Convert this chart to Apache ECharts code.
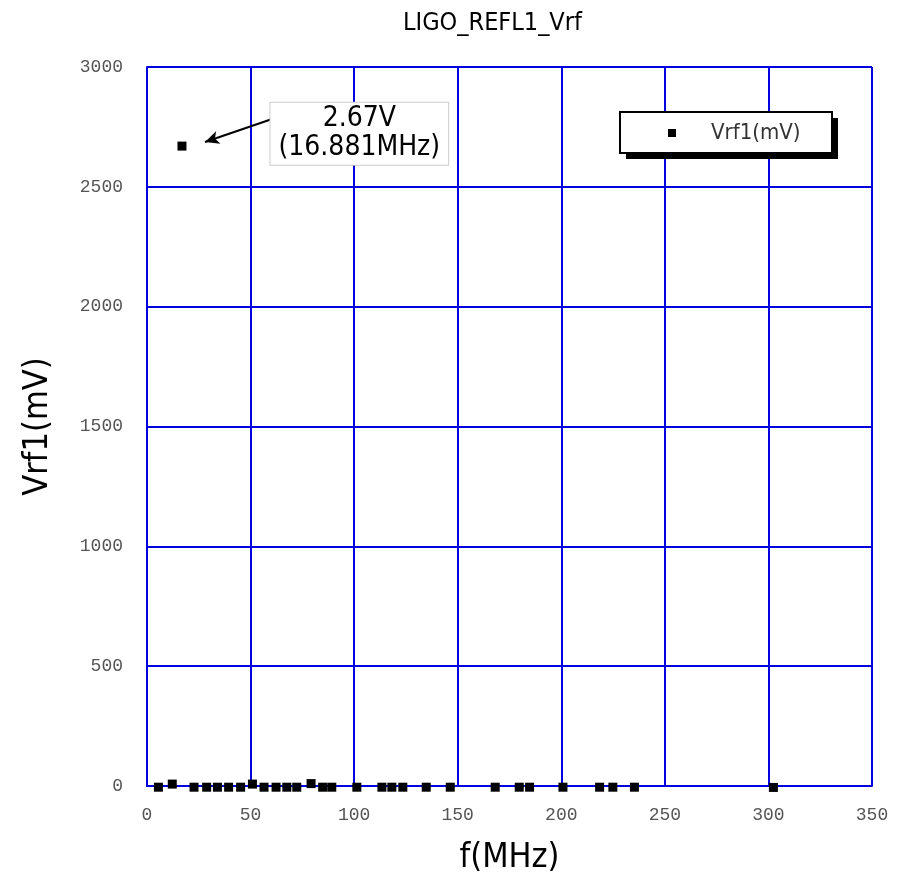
<!DOCTYPE html>
<html><head><meta charset="utf-8">
<script src="https://cdn.jsdelivr.net/npm/echarts@6/dist/echarts.min.js"></script>
<style>html,body{margin:0;padding:0;background:#fff}#c{width:903px;height:883px}</style>
</head><body><div id="c"></div>
<script>
const titleText = 'LIGO_REFL1_Vrf';
const xName = 'f(MHz)';
const yName = 'Vrf1(mV)';
const seriesName = 'Vrf1(mV)';
const freqMHz = [5.5, 12.2, 16.881, 22.7, 28.8, 34.0, 39.4, 45.2, 50.9, 56.5, 62.3, 67.5, 72.3, 79.2, 84.8, 89.2, 101.3, 113.4, 118.2, 123.5, 134.8, 146.4, 168.1, 179.7, 184.7, 200.8, 218.5, 224.9, 235.3, 302.4];
const vrfmV   = [-5, 8, 2670, -5, -5, -5, -5, -5, 8, -5, -5, -5, -5, 10, -5, -5, -5, -5, -5, -5, -5, -5, -5, -5, -5, -5, -5, -5, -5, -6];
const peakLabel = '2.67V\n(16.881MHz)';
const xTicks = {min: 0, max: 350, interval: 50};
const yTicks = {min: 0, max: 3000, interval: 500};

const blue = '#0000e0';
const narrow = "'Liberation Sans Narrow','DejaVu Sans Condensed',sans-serif";
const mono = "'Liberation Mono','DejaVu Sans Mono',monospace";

const chart = echarts.init(document.getElementById('c'), null, {renderer: 'canvas'});
chart.setOption({
  animation: false,
  backgroundColor: '#fff',
  title: {text: titleText, left: 398, top: 6,
    textStyle: {fontFamily: narrow, fontSize: 25, fontWeight: 'normal', color: '#000'}},
  graphic: [
    {type: 'polygon', z: 50, shape: {points: [[626, 118], [838, 118], [838, 159], [626, 159]]},
     style: {fill: '#000'}},
    {type: 'rect', z: 51, shape: {x: 620, y: 112, width: 212, height: 41},
     style: {fill: '#fff', stroke: '#000', lineWidth: 2}}
  ],
  legend: {
    left: 620, top: 112, orient: 'horizontal', z: 60,
    data: [seriesName],
    icon: 'rect', itemWidth: 8, itemHeight: 8,
    padding: [10, 26, 10, 48],
    textStyle: {fontFamily: narrow, fontSize: 22, color: '#333', padding: [0, 0, 0, 30]}
  },
  grid: {left: 147, right: 31, top: 67, bottom: 97, containLabel: false},
  xAxis: {
    type: 'value', min: xTicks.min, max: xTicks.max, interval: xTicks.interval,
    name: xName, nameLocation: 'middle', nameGap: 55,
    nameTextStyle: {fontFamily: narrow, fontSize: 34, color: '#000'},
    axisLine: {show: true, onZero: false, lineStyle: {color: blue, width: 2}},
    axisTick: {show: true, inside: true, length: 4, lineStyle: {color: blue, width: 2}},
    axisLabel: {fontFamily: mono, fontSize: 18, color: '#555', margin: 20},
    splitLine: {show: true, lineStyle: {color: blue, width: 2}}
  },
  yAxis: {
    type: 'value', min: yTicks.min, max: yTicks.max, interval: yTicks.interval,
    name: yName, nameLocation: 'middle', nameGap: 92, nameRotate: 90,
    nameTextStyle: {fontFamily: narrow, fontSize: 34, color: '#000'},
    axisLine: {show: true, onZero: false, lineStyle: {color: blue, width: 2}},
    axisTick: {show: true, inside: true, length: 4, lineStyle: {color: blue, width: 2}},
    axisLabel: {fontFamily: mono, fontSize: 18, color: '#555', margin: 24,
      formatter: v => String(v)},
    splitLine: {show: true, lineStyle: {color: blue, width: 2}}
  },
  series: [{
    name: seriesName, type: 'scatter', clip: false,
    symbol: 'rect', symbolSize: 9,
    itemStyle: {color: '#000', opacity: 1},
    data: freqMHz.map((f, i) => [f, vrfmV[i]]),
    z: 5,
    markLine: {
      silent: true, symbol: ['none', 'arrow'], symbolSize: [10, 14],
      lineStyle: {color: '#000', width: 2, type: 'solid'},
      label: {show: false},
      data: [[{coord: [61.8, 2787]}, {coord: [28.0, 2687]}]]
    },
    markPoint: {
      silent: true, symbol: 'rect', symbolSize: 0,
      data: [{coord: [102.5, 2722]}],
      label: {show: true, formatter: peakLabel, position: 'inside',
        fontFamily: narrow, fontSize: 28, lineHeight: 29, color: '#000', align: 'center',
        backgroundColor: '#fff', borderColor: '#ccc', borderWidth: 1, padding: [2, 8, 2, 8]}
    }
  }]
});
</script></body></html>
